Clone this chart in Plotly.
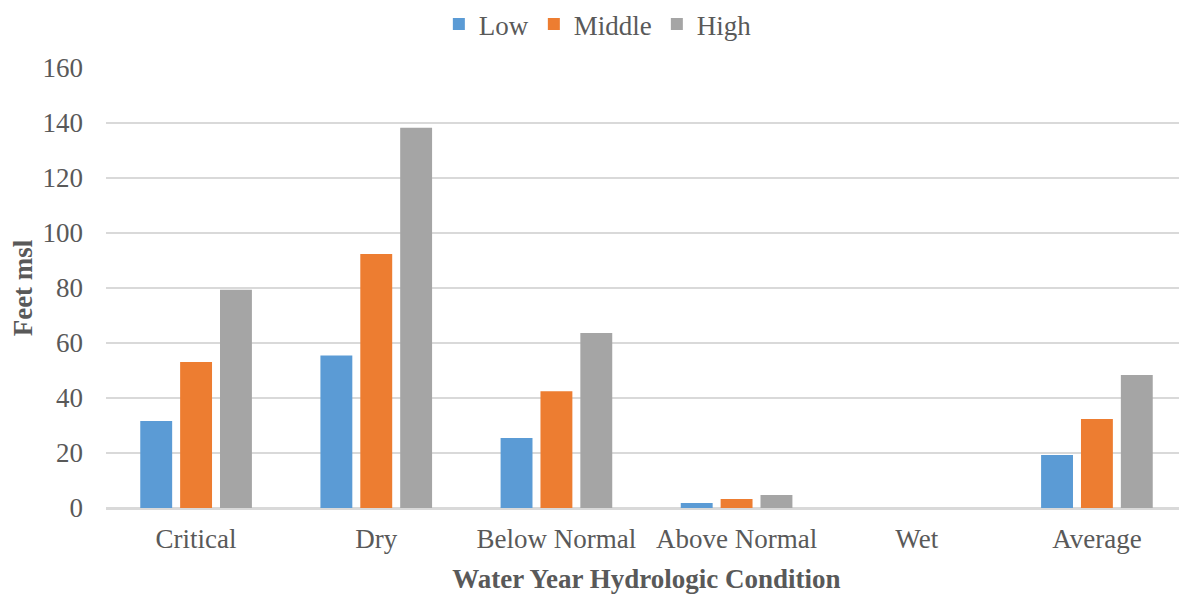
import plotly.graph_objects as go

categories = ["Critical", "Dry", "Below Normal", "Above Normal", "Wet", "Average"]
low = [31.6, 55.5, 25.5, 1.8, 0.0, 19.3]
middle = [53.1, 92.4, 42.5, 3.3, 0.0, 32.4]
high = [79.4, 138.3, 63.6, 4.7, 0.0, 48.4]

series = [("Low", low, "#5B9BD5"), ("Middle", middle, "#ED7D31"), ("High", high, "#A5A5A5")]

FONT = "Liberation Serif, Times New Roman, serif"
GREY = "#595959"
FS = 27

fig = go.Figure()
for name, vals, color in series:
    fig.add_trace(
        go.Bar(
            x=categories,
            y=vals,
            name=name,
            marker=dict(color=color, line=dict(width=0)),
        )
    )

# page body adds an 8px offset, so the figure is a bit smaller than the window
fig.update_layout(
    width=1179,
    height=586,
    paper_bgcolor="white",
    plot_bgcolor="white",
    barmode="group",
    bargap=0.336,
    bargroupgap=0.2,
    font=dict(family=FONT, color=GREY, size=FS),
    margin=dict(l=98, r=0, t=60, b=86, autoexpand=False),
    legend=dict(
        orientation="h",
        x=0.455,
        y=1.099,
        xanchor="center",
        yanchor="middle",
        font=dict(size=FS, color=GREY),
        itemwidth=30,
        tracegroupgap=0,
        traceorder="normal",
    ),
    xaxis=dict(
        title=dict(text="<b>Water Year Hydrologic Condition</b>", font=dict(size=FS), standoff=20),
        showline=True,
        linecolor="#D9D9D9",
        linewidth=1.5,
        tickfont=dict(size=FS),
        ticks="",
        ticklabelstandoff=6,
    ),
    yaxis=dict(
        title=dict(text="<b>Feet msl</b>", font=dict(size=FS), standoff=8),
        range=[0, 160],
        dtick=20,
        gridcolor="#D9D9D9",
        gridwidth=1.5,
        zeroline=True,
        zerolinecolor="#D9D9D9",
        zerolinewidth=1.5,
        tickfont=dict(size=FS),
        ticks="",
        ticklen=0,
        ticklabelstandoff=22,
    ),
)

fig.write_html("out.html")
